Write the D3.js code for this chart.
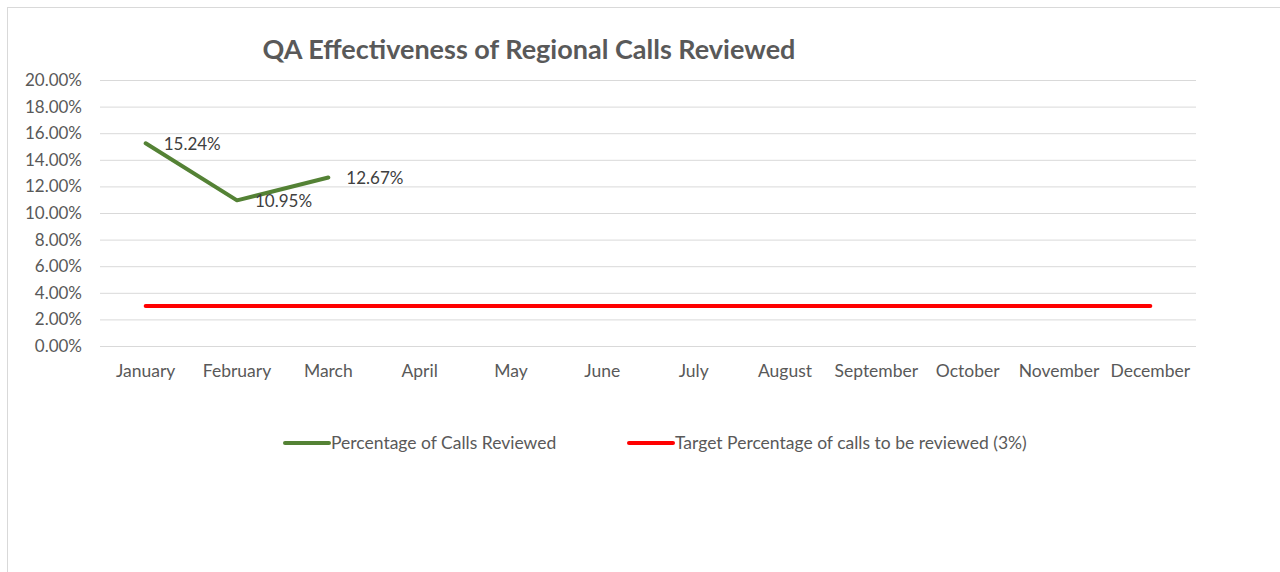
<!DOCTYPE html>
<html lang="en">

<head>
    <meta charset="UTF-8">
    <title>QA Effectiveness of Regional Calls Reviewed</title>
    <style>
        body {
            margin: 0;
            background: #fff;
        }

        text {
            font-family: Lato, "Liberation Sans", sans-serif;
            fill: #595959;
        }
    </style>
</head>

<body>
    <svg id="chart" width="1280" height="572"></svg>
    <script src="https://d3js.org/d3.v7.min.js"></script>
    <script>
        const months = ['January', 'February', 'March', 'April', 'May', 'June',
            'July', 'August', 'September', 'October', 'November', 'December'];
        const reviewed = [15.24, 10.95, 12.67];
        const target = [3, 3, 3, 3, 3, 3, 3, 3, 3, 3, 3, 3];
        const yTicks = [0, 2, 4, 6, 8, 10, 12, 14, 16, 18, 20];

        const svg = d3.select('#chart');

        // outer chart frame
        svg.append('rect')
            .attr('x', 7.5).attr('y', 7.5)
            .attr('width', 1400).attr('height', 700)
            .attr('fill', 'none')
            .attr('stroke', '#d9d9d9');

        const x = d3.scaleBand().domain(months).range([100, 1196]);
        const y = d3.scaleLinear().domain([0, 20]).range([346, 80]);

        // gridlines
        svg.append('g')
            .selectAll('line')
            .data(yTicks)
            .join('line')
            .attr('x1', 100).attr('x2', 1196)
            .attr('y1', d => y(d) + 0.5).attr('y2', d => y(d) + 0.5)
            .attr('stroke', '#d9d9d9');

        // y labels
        svg.append('g')
            .selectAll('text')
            .data(yTicks)
            .join('text')
            .attr('x', 82)
            .attr('y', d => y(d))
            .attr('dy', '0.35em')
            .attr('text-anchor', 'end')
            .style('font-size', '17px')
            .text(d => d.toFixed(2) + '%');

        // x labels
        svg.append('g')
            .selectAll('text')
            .data(months)
            .join('text')
            .attr('x', d => x(d) + x.bandwidth() / 2)
            .attr('y', 371)
            .attr('dy', '0.35em')
            .attr('text-anchor', 'middle')
            .style('font-size', '17.5px')
            .text(d => d);

        const line = d3.line()
            .x((d, i) => x(months[i]) + x.bandwidth() / 2)
            .y(d => y(d));

        svg.append('path')
            .datum(target)
            .attr('d', line)
            .attr('fill', 'none')
            .attr('stroke', '#ff0000')
            .attr('stroke-width', 4)
            .attr('stroke-linecap', 'round');

        svg.append('path')
            .datum(reviewed)
            .attr('d', line)
            .attr('fill', 'none')
            .attr('stroke', '#548235')
            .attr('stroke-width', 4)
            .attr('stroke-linecap', 'round')
            .attr('stroke-linejoin', 'round');

        // data labels
        svg.append('g')
            .selectAll('text')
            .data(reviewed)
            .join('text')
            .attr('x', (d, i) => x(months[i]) + x.bandwidth() / 2 + 18)
            .attr('y', d => y(d) + 1)
            .attr('dy', '0.35em')
            .style('font-size', '17px')
            .style('fill', '#404040')
            .text(d => d.toFixed(2) + '%');

        // title
        svg.append('text')
            .attr('x', 529)
            .attr('y', 50)
            .attr('dy', '0.35em')
            .attr('text-anchor', 'middle')
            .style('font-size', '27px')
            .style('font-weight', 'bold')
            .text('QA Effectiveness of Regional Calls Reviewed');

        // legend
        const legend = [
            { name: 'Percentage of Calls Reviewed', color: '#548235', x: 285 },
            { name: 'Target Percentage of calls to be reviewed (3%)', color: '#ff0000', x: 629 }
        ];
        const lg = svg.append('g')
            .selectAll('g')
            .data(legend)
            .join('g')
            .attr('transform', d => `translate(${d.x}, 443)`);
        lg.append('line')
            .attr('x1', 0).attr('x2', 44)
            .attr('stroke', d => d.color)
            .attr('stroke-width', 4)
            .attr('stroke-linecap', 'round');
        lg.append('text')
            .attr('x', 46)
            .attr('dy', '0.35em')
            .style('font-size', '17.5px')
            .text(d => d.name);
    </script>
</body>

</html>
